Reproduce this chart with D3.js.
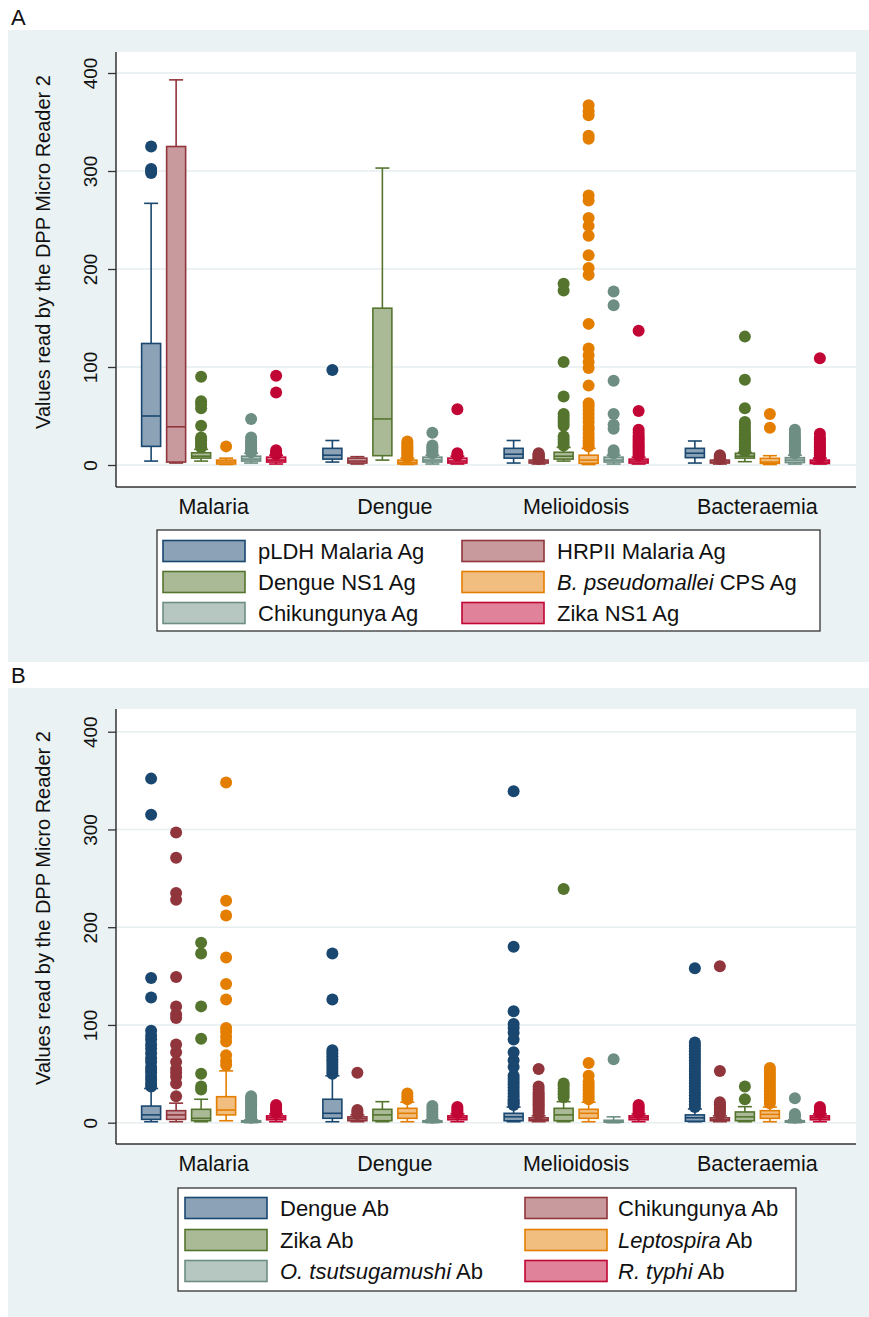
<!DOCTYPE html>
<html>
<head>
<meta charset="utf-8">
<script src="https://cdn.jsdelivr.net/npm/d3@7"></script>
<style>
html,body{margin:0;padding:0;background:#fff;}
svg{display:block;font-family:"Liberation Sans",Arial,sans-serif;}
</style>
</head>
<body>
<svg id="chart" width="869" height="1317"></svg>
<script>
// ---------- data ----------
const categories = ["Malaria", "Dengue", "Melioidosis", "Bacteraemia"];
const yTicks = [0, 100, 200, 300, 400];
const seriesColors = ["#1a476f", "#90353b", "#55752f", "#e37e00", "#6e8e84", "#c10534"];
const seriesFills  = ["#8ca3b7", "#c89a9d", "#aaba97", "#f1be80", "#b6c6c1", "#e08299"];

// Panel A: [low whisker, Q1, median, Q3, high whisker] per category
const pldhStats = [[4, 19, 50, 124, 267], [3, 6, 10, 17, 25], [2, 7, 11, 17, 25], [2, 7.5, 12, 17, 24.5]];
const pldhOut   = [[298, 300, 302, 325], [97], [], []];
const hrpStats  = [[2, 3, 39, 325, 393], [1, 2, 4, 7, 8.5], [1, 2, 3, 5, 5], [1, 2, 3, 5, 5]];
const hrpOut    = [[], [], [6, 7, 8, 9, 10, 11, 12], [6, 7, 8, 9, 10]];
const dnsStats  = [[4, 7, 9, 12.5, 16], [5, 9.5, 47, 160, 303], [4, 6, 9, 13, 18], [3.4, 7, 9, 12, 13]];
const dnsOut    = [[18, 20, 22, 25, 26, 28, 40, 58, 62, 65, 90], [],
                   [20, 23, 26, 29, 40, 43, 46, 49, 52, 70, 105, 178, 185],
                   [14, 16, 18, 20, 22, 24, 26, 28, 30, 32, 35, 38, 41, 44, 58, 87, 131]];
const bpsStats  = [[0.5, 1, 3, 5, 7], [0.5, 1, 2.5, 5, 7], [0.5, 1.7, 5, 10, 17], [0.5, 1.7, 3, 6.8, 9.5]];
const bpsOut    = [[19], [8, 10, 12, 14, 16, 18, 20, 22, 24],
                   [19, 22, 25, 28, 32, 36, 39, 44, 48, 52, 56, 60, 63, 81, 99, 105, 112, 119, 144, 194, 201, 214, 234, 244, 252, 270, 275, 333, 336, 357, 361, 367],
                   [38, 52]];
const chkStats  = [[2, 4, 6, 9, 12], [1, 3, 5, 8, 10], [1, 3, 5, 8, 10], [1, 2.5, 5, 7.5, 10]];
const chkOut    = [[13, 15, 17, 19, 21, 23, 25, 28, 47], [12, 14, 16, 18, 20, 33],
                   [12, 15, 37, 41, 52, 86, 163, 177],
                   [12, 14, 16, 18, 20, 22, 24, 26, 28, 30, 33, 36]];
const zikStats  = [[1, 3, 5, 8, 10], [1, 2, 4, 7, 9], [1, 2, 4, 6, 8], [1, 1.5, 3, 5, 7]];
const zikOut    = [[11, 13, 15, 74, 91], [10, 12, 57],
                   [10, 12, 14, 16, 18, 20, 22, 24, 26, 28, 30, 33, 36, 55, 137],
                   [8, 10, 12, 14, 16, 18, 20, 22, 24, 26, 28, 32, 109]];

// Panel B
const denAbStats = [[1, 3.4, 8, 17, 35], [1, 4.5, 9.6, 24, 48], [1, 2, 6, 9.6, 16], [1, 1.5, 5, 8, 14]];
const denAbOut   = [[37, 40, 44, 47, 51, 54, 57, 62, 66, 71, 76, 80, 85, 89, 94, 128, 148, 315, 352],
                    [50, 53, 56, 59, 62, 65, 68, 71, 74, 126, 173],
                    [18, 20, 22, 24, 27, 30, 33, 36, 39, 42, 45, 48, 57, 64, 72, 85, 92, 97, 101, 114, 180, 339],
                    [16, 19, 22, 25, 28, 31, 34, 37, 40, 43, 46, 49, 52, 55, 58, 61, 64, 67, 70, 73, 76, 79, 82, 158]];
const chkAbStats = [[1, 3.4, 8, 12.3, 20], [1, 2, 4, 6, 8], [1, 2, 3, 5, 7], [1, 2, 3, 5, 7]];
const chkAbOut   = [[27, 40, 47, 51, 55, 62, 72, 80, 107, 111, 119, 149, 228, 235, 271, 297],
                    [9, 11, 13, 51],
                    [9, 11, 13, 15, 17, 19, 21, 23, 25, 27, 29, 31, 34, 37, 55],
                    [9, 11, 13, 15, 17, 19, 21, 53, 160]];
const zikAbStats = [[1, 2, 4.5, 13.7, 24], [1, 2, 8, 13.7, 21.5], [1, 2, 8, 14.7, 21.5], [1, 2, 6, 11, 16.4]];
const zikAbOut   = [[34, 37, 50, 86, 119, 173, 184], [], [26, 29, 32, 35, 38, 40, 239], [24, 37]];
const lepAbStats = [[2, 8, 13, 26.6, 53], [1, 4.5, 9.6, 14.7, 21], [1, 4.5, 9.6, 13.7, 21], [1, 4.5, 8.5, 12.3, 16]];
const lepAbOut   = [[59, 63, 69, 83, 88, 93, 97, 126, 142, 169, 212, 227, 348],
                    [24, 27, 30],
                    [24, 27, 30, 33, 36, 39, 42, 48, 61],
                    [20, 23, 26, 29, 32, 35, 38, 41, 44, 47, 50, 53, 56]];
const otsAbStats = [[0, 0.5, 1, 2, 3], [0, 0.5, 1, 2, 3], [0, 0.5, 1, 2.5, 6], [0, 0.5, 1, 2, 3]];
const otsAbOut   = [[5, 7, 9, 11, 13, 15, 17, 19, 21, 23, 25, 27], [5, 8, 11, 14, 17], [65], [5, 7, 9, 25]];
const rtyAbStats = [[1, 3, 5, 7, 9], [1, 3, 5, 7, 9], [1, 3, 5, 7, 9], [1, 3, 5, 7, 9]];
const rtyAbOut   = [[10, 12, 14, 16, 18], [10, 12, 14, 16], [10, 12, 14, 16, 18], [10, 12, 14, 16]];

// Legend labels: segments of [text, italic]
const legendA = [
  [["pLDH Malaria Ag", false]], [["HRPII Malaria Ag", false]],
  [["Dengue NS1 Ag", false]], [["B. pseudomallei", true], [" CPS Ag", false]],
  [["Chikungunya Ag", false]], [["Zika NS1 Ag", false]]
];
const legendB = [
  [["Dengue Ab", false]], [["Chikungunya Ab", false]],
  [["Zika Ab", false]], [["Leptospira", true], [" Ab", false]],
  [["O. tsutsugamushi", true], [" Ab", false]], [["R. typhi", true], [" Ab", false]]
];
const yTitle = "Values read by the DPP Micro Reader 2";

// ---------- drawing ----------
const svg = d3.select("#chart");
const BG = "#eaf2f3";
const FONT = "\"Liberation Sans\", Arial, sans-serif";

function drawPanel(cfg) {
  const g = svg.append("g");
  g.append("rect").attr("x", 8).attr("y", cfg.bgTop).attr("width", 861).attr("height", cfg.bgBottom - cfg.bgTop).attr("fill", BG);
  g.append("text").attr("x", 11).attr("y", cfg.labelY).attr("font-size", 22).attr("fill", "#111").text(cfg.label);

  const plotL = 116, plotR = 856;
  g.append("rect").attr("x", plotL).attr("y", cfg.plotTop).attr("width", plotR - plotL).attr("height", cfg.axisY - cfg.plotTop).attr("fill", "#fff");

  const y = d3.scaleLinear().domain([0, 400]).range([cfg.y0, cfg.y400]);
  const x = d3.scaleBand().domain(categories).range([123, 848]).padding(0);
  const xs = d3.scalePoint().domain(d3.range(6)).range([-62.5, 62.5]);
  const boxW = 19, capW = 14;

  g.append("g").selectAll("line").data(yTicks).join("line")
    .attr("x1", plotL).attr("x2", plotR).attr("y1", d => y(d)).attr("y2", d => y(d))
    .attr("stroke", "#e6eef0").attr("stroke-width", 1.5);

  cfg.stats.forEach((statArr, si) => {
    const col = seriesColors[si], fil = seriesFills[si];
    statArr.forEach((s, ci) => {
      const cx = x(categories[ci]) + x.bandwidth() / 2 + xs(si);
      const [lo, q1, med, q3, hi] = s;
      const bg = g.append("g");
      bg.append("line").attr("x1", cx).attr("x2", cx).attr("y1", y(q3)).attr("y2", y(hi)).attr("stroke", col).attr("stroke-width", 1.6);
      bg.append("line").attr("x1", cx).attr("x2", cx).attr("y1", y(q1)).attr("y2", y(lo)).attr("stroke", col).attr("stroke-width", 1.6);
      bg.append("line").attr("x1", cx - capW / 2).attr("x2", cx + capW / 2).attr("y1", y(hi)).attr("y2", y(hi)).attr("stroke", col).attr("stroke-width", 1.6);
      bg.append("line").attr("x1", cx - capW / 2).attr("x2", cx + capW / 2).attr("y1", y(lo)).attr("y2", y(lo)).attr("stroke", col).attr("stroke-width", 1.6);
      bg.append("rect").attr("x", cx - boxW / 2).attr("y", y(q3)).attr("width", boxW).attr("height", Math.max(0.5, y(q1) - y(q3)))
        .attr("fill", fil).attr("stroke", col).attr("stroke-width", 1.6);
      bg.append("line").attr("x1", cx - boxW / 2).attr("x2", cx + boxW / 2).attr("y1", y(med)).attr("y2", y(med)).attr("stroke", col).attr("stroke-width", 1.6);
      bg.selectAll("circle").data(cfg.outs[si][ci]).join("circle")
        .attr("cx", cx).attr("cy", d => y(d)).attr("r", 6).attr("fill", col);
    });
  });

  const yAxis = d3.axisLeft(y).tickValues(yTicks).tickSize(8).tickSizeOuter(0).tickFormat(d3.format("d"));
  const ya = g.append("g").attr("transform", `translate(${plotL},0)`).call(yAxis);
  ya.select(".domain").remove();
  ya.selectAll(".tick line").attr("stroke", "#333").attr("stroke-width", 1.3);
  ya.selectAll(".tick text").attr("transform", "rotate(-90)").attr("x", 0).attr("y", -26).attr("dy", "0.35em")
    .attr("text-anchor", "middle").attr("font-size", 19).attr("font-family", FONT).attr("fill", "#111");
  g.append("line").attr("x1", plotL).attr("x2", plotL).attr("y1", cfg.plotTop).attr("y2", cfg.axisY).attr("stroke", "#333").attr("stroke-width", 1.5);

  const xAxis = d3.axisBottom(x).tickSize(0).tickPadding(12);
  const xa = g.append("g").attr("transform", `translate(0,${cfg.axisY})`).call(xAxis);
  xa.select(".domain").remove();
  xa.selectAll(".tick text").attr("font-size", 21.5).attr("font-family", FONT).attr("fill", "#111");
  g.append("line").attr("x1", plotL).attr("x2", plotR).attr("y1", cfg.axisY).attr("y2", cfg.axisY).attr("stroke", "#333").attr("stroke-width", 1.5);

  g.append("text").attr("transform", `translate(43,${cfg.titleY}) rotate(-90)`).attr("text-anchor", "middle")
    .attr("dy", "0.35em").attr("font-size", 20).attr("fill", "#111").text(yTitle);

  const L = cfg.legend;
  g.append("rect").attr("x", L.x0).attr("y", L.y0).attr("width", L.x1 - L.x0).attr("height", L.y1 - L.y0)
    .attr("fill", "#fff").attr("stroke", "#333").attr("stroke-width", 1.3);
  cfg.legendLabels.forEach((segs, i) => {
    const r = Math.floor(i / 2), c = i % 2;
    const cy = L.rows[r];
    g.append("rect").attr("x", L.swX[c]).attr("y", cy - 10.5).attr("width", 82).attr("height", 21)
      .attr("fill", seriesFills[i]).attr("stroke", seriesColors[i]).attr("stroke-width", 1.6);
    const t = g.append("text").attr("x", L.txX[c]).attr("y", cy).attr("dy", "0.35em").attr("font-size", 22).attr("fill", "#111");
    segs.forEach(([txt, it]) => t.append("tspan").attr("font-style", it ? "italic" : "normal").text(txt));
  });
}

drawPanel({
  label: "A", labelY: 25, bgTop: 30, bgBottom: 662,
  plotTop: 52, axisY: 487, y0: 465, y400: 73, titleY: 252,
  stats: [pldhStats, hrpStats, dnsStats, bpsStats, chkStats, zikStats],
  outs: [pldhOut, hrpOut, dnsOut, bpsOut, chkOut, zikOut],
  legendLabels: legendA,
  legend: { x0: 157, x1: 820, y0: 530, y1: 631, rows: [551, 582, 613], swX: [163, 462], txX: [258, 557] }
});
drawPanel({
  label: "B", labelY: 683, bgTop: 688, bgBottom: 1317,
  plotTop: 709, axisY: 1144, y0: 1122.7, y400: 731.7, titleY: 908,
  stats: [denAbStats, chkAbStats, zikAbStats, lepAbStats, otsAbStats, rtyAbStats],
  outs: [denAbOut, chkAbOut, zikAbOut, lepAbOut, otsAbOut, rtyAbOut],
  legendLabels: legendB,
  legend: { x0: 178, x1: 796, y0: 1188, y1: 1291, rows: [1208, 1240, 1271], swX: [185, 525], txX: [280, 618] }
});
</script>
</body>
</html>
